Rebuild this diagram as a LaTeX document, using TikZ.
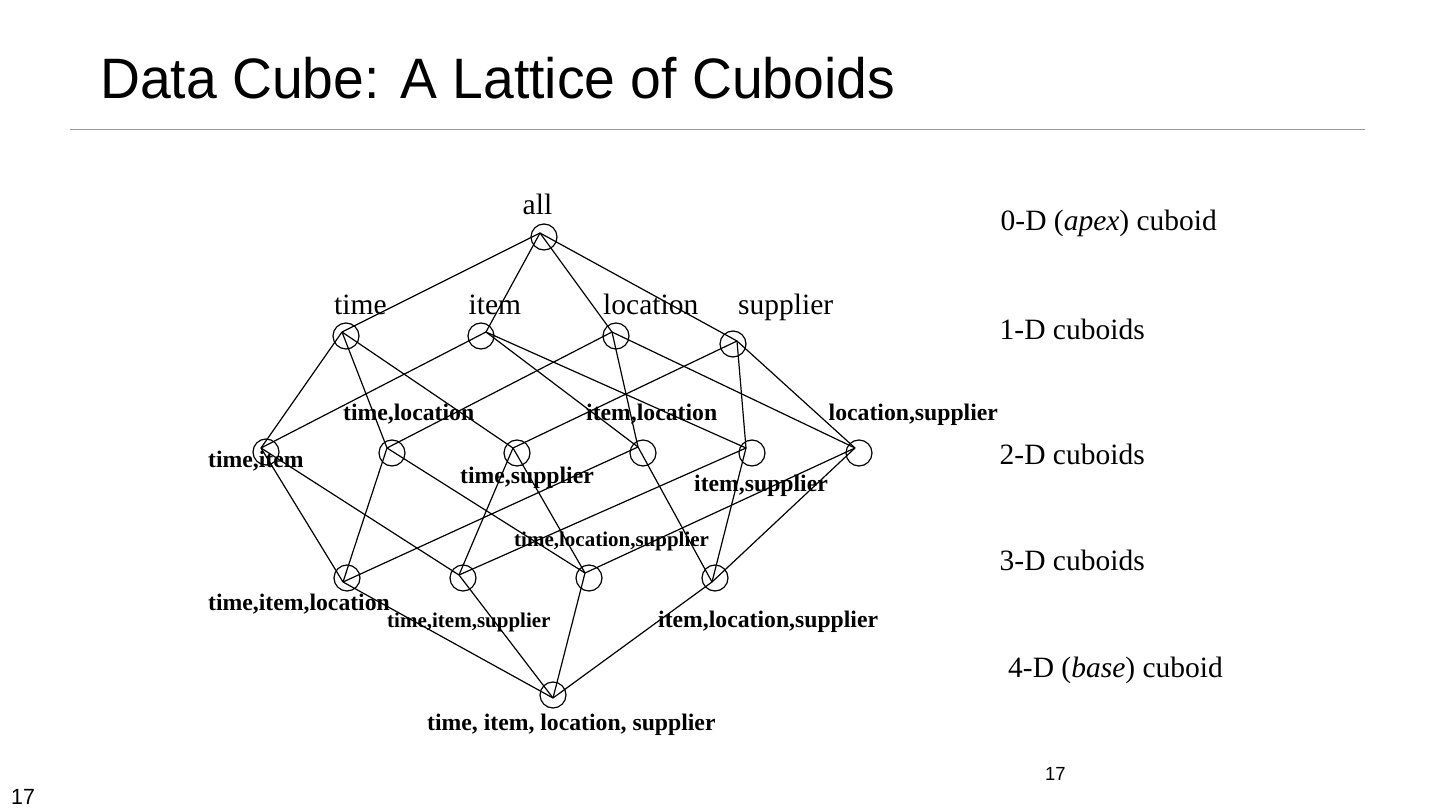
\documentclass[tikz,border=0pt]{standalone}
\usepackage{fontspec}
\setmainfont{Liberation Serif}
\newfontfamily\titlefont[FakeStretch=0.97]{Liberation Sans}
\begin{document}
\begin{tikzpicture}[x=1pt,y=-1pt,
  cub/.style={circle,draw,minimum size=26pt,inner sep=0pt,line width=1.2pt},
  edge/.style={line width=1.2pt},
  lbl/.style={anchor=base west,inner sep=0pt,font=\fontsize{29.5}{30}\selectfont},
  blbl/.style={anchor=base west,inner sep=0pt,font=\fontsize{23.7}{24}\selectfont\bfseries},
  sblbl/.style={anchor=base west,inner sep=0pt,font=\fontsize{21}{22}\selectfont\bfseries},
  pnum/.style={anchor=base west,inner sep=0pt,font=\titlefont\fontsize{20}{20}\selectfont}]
\useasboundingbox (0,0) rectangle (1440,810);
% title and rule
\node[anchor=base west,inner sep=0pt,font=\titlefont\fontsize{57}{57}\selectfont] (title) at (100,99) {Data Cube: A Lattice of Cuboids};
\draw[line width=1pt,gray!80] (70,130) -- (1365,130);
% cuboid circles
\node[cub] (a) at (544,237) {};
\node[cub] (t) at (346,336) {};
\node[cub] (i) at (481,336) {};
\node[cub] (l) at (616,336) {};
\node[cub] (s) at (733,344) {};
\node[cub] (ti) at (266,452) {};
\node[cub] (tl) at (392,453) {};
\node[cub] (ts) at (517,453) {};
\node[cub] (il) at (643,453) {};
\node[cub] (is) at (752,453) {};
\node[cub] (ls) at (859,453) {};
\node[cub] (til) at (347,578) {};
\node[cub] (tis) at (463,578) {};
\node[cub] (tls) at (589,578) {};
\node[cub] (ils) at (715,578) {};
\node[cub] (b) at (553,695) {};
% junction points
\coordinate (aj) at (540,233);
\coordinate (tj) at (342,332);
\coordinate (ij) at (486,332);
\coordinate (lj) at (612,332);
\coordinate (sj) at (737,341);
\coordinate (tij) at (261,448);
\coordinate (tlj) at (387,448);
\coordinate (tsj) at (513,448);
\coordinate (ilj) at (638,447);
\coordinate (isj) at (746,448);
\coordinate (lsj) at (855,448);
\coordinate (tilj) at (343,582);
\coordinate (tisj) at (459,575);
\coordinate (tlsj) at (585,573);
\coordinate (ilsj) at (712,582);
\coordinate (bj) at (553,698);
% edges
\foreach \u/\v in {aj/tj,aj/ij,aj/lj,aj/sj,
  tj/tij,tj/tlj,tj/tsj,
  ij/tij,ij/ilj,ij/isj,
  lj/tlj,lj/ilj,lj/lsj,
  sj/tsj,sj/isj,sj/lsj,
  tij/tilj,tij/tisj,tlj/tilj,tlj/tlsj,tsj/tisj,tsj/tlsj,
  ilj/tilj,ilj/ilsj,isj/tisj,isj/ilsj,lsj/tlsj,lsj/ilsj,
  tilj/bj,tisj/bj,tlsj/bj,ilsj/bj}
  \draw[edge] (\u) -- (\v);
% labels
\node[lbl] (la) at (522.5,215) {all};
\node[lbl] (lt) at (334,314) {time};
\node[lbl] (li) at (468.5,314) {item};
\node[lbl] (ll) at (603,314) {location};
\node[lbl] (lsup) at (738,314) {supplier};
\node[blbl] (lti) at (208,467) {time,item};
\node[blbl] (ltl) at (343,420.5) {time,location};
\node[blbl] (lts) at (460,483) {time,supplier};
\node[blbl] (lil) at (586,420.5) {item,location};
\node[blbl] (lis) at (694,491.5) {item,supplier};
\node[blbl] (lls) at (828.5,420.5) {location,supplier};
\node[sblbl] (ltls) at (514,546) {time,location,supplier};
\node[blbl] (ltil) at (208,610.5) {time,item,location};
\node[sblbl] (ltis) at (387,627.5) {time,item,supplier};
\node[blbl] (lils) at (658,627.5) {item,location,supplier};
\node[blbl] (lb) at (427,730.5) {time, item, location, supplier};
% level labels
\node[lbl] (d0) at (1000.5,230.5) {0-D (\textit{apex}) cuboid};
\node[lbl] (d1) at (999.5,339.5) {1-D cuboids};
\node[lbl] (d2) at (999.5,464.5) {2-D cuboids};
\node[lbl] (d3) at (999.5,570.5) {3-D cuboids};
\node[lbl] (d4) at (1008,677) {4-D (\textit{base}) cuboid};
% page numbers
\node[pnum,font=\titlefont\fontsize{19}{19}\selectfont] (pn1) at (1045,780.5) {17};
\node[pnum,font=\titlefont\fontsize{22}{22}\selectfont] (pn2) at (11,804) {17};
\end{tikzpicture}
\end{document}
